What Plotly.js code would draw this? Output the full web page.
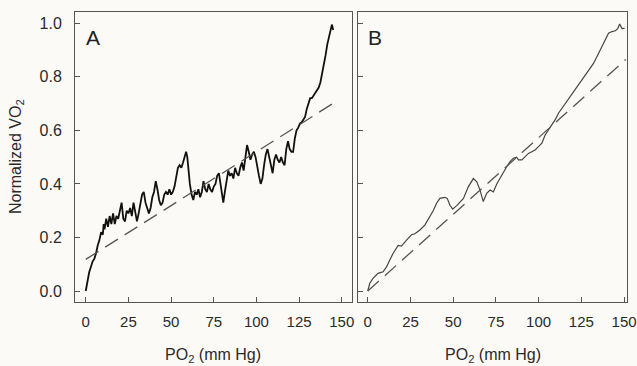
<!DOCTYPE html>
<html>
<head>
<meta charset="utf-8">
<script src="https://cdn.plot.ly/plotly-3.0.1.min.js"></script>
<style>html,body{margin:0;padding:0;background:#fcfaf7;}#chart{width:637px;height:366px;}</style>
</head>
<body>
<div id="chart"></div>
<script>
// Panel A: measured curve
const aX = [0,1,2,3,4,5,6,7,8,9,10,10.5,11,12,13,14,15,16,17,18,19,20,21,22,23,24,25,26,27,28,29,30,31,32,33,34,35,36,37,38,39,40,41,42,43,44,45,46,47,48,49,50,51,52,53,54,55,56,57,58,58.8,59.5,60,61,62,63,64,65,66,67,68,69,70,71,72,73,74,75,76,77,78,79,80,80.6,81.5,82.5,83.5,84.5,85.5,86.5,87.5,88.5,89.5,90.5,91.5,92.5,93.5,94.5,95.5,96.5,97.5,98.5,99.5,100.5,101.5,102.5,103.5,104.5,105.5,106.5,107.5,108.5,109.5,110.5,111.5,112.5,113.5,114.5,115.5,116.5,117.5,118.5,119.5,120.5,121.5,122.5,123.5,124.5,125.5,126.5,127.5,128.5,129.5,130.5,131.5,132.5,133.5,134.5,135.5,136.5,137.5,138.5,139.5,140.5,141.5,142.5,143.5,144.2,145];
const aY = [0.0,0.04,0.07,0.09,0.11,0.12,0.14,0.17,0.19,0.22,0.21,0.25,0.23,0.27,0.24,0.28,0.25,0.29,0.25,0.28,0.27,0.30,0.33,0.27,0.26,0.30,0.29,0.31,0.28,0.33,0.29,0.26,0.29,0.33,0.36,0.37,0.33,0.31,0.29,0.31,0.35,0.37,0.41,0.38,0.34,0.32,0.33,0.36,0.37,0.36,0.38,0.36,0.37,0.39,0.43,0.46,0.47,0.46,0.48,0.50,0.52,0.50,0.46,0.40,0.36,0.34,0.37,0.36,0.38,0.35,0.37,0.41,0.38,0.37,0.40,0.38,0.37,0.39,0.40,0.43,0.44,0.39,0.35,0.33,0.37,0.42,0.45,0.43,0.44,0.42,0.46,0.44,0.43,0.46,0.48,0.45,0.50,0.545,0.52,0.49,0.51,0.52,0.50,0.46,0.43,0.40,0.42,0.47,0.51,0.53,0.50,0.46,0.44,0.49,0.51,0.49,0.48,0.50,0.48,0.47,0.53,0.56,0.53,0.52,0.52,0.57,0.60,0.61,0.625,0.63,0.64,0.65,0.68,0.70,0.72,0.72,0.73,0.74,0.75,0.76,0.78,0.81,0.84,0.88,0.92,0.95,0.97,0.995,0.975];
// Panel A: linear fit (dashed)
const aFitX = [0, 145.5];
const aFitY = [0.118, 0.703];

// Panel B: measured curve
const bX = [0,1.2,3.1,6,9,11,12.9,14.8,17.8,19.7,22.7,25.6,27.6,30.5,33.4,36.4,38.3,40.3,42.2,45.2,46.5,48.1,49.7,52.2,54,56,58.9,61.8,63.8,65.7,67.6,69.6,71.6,73.5,75.5,78.4,81.3,83.3,85.2,87.1,88.2,90.2,92.1,94,96,97.9,99.9,101.9,103.8,105.7,107.7,109.7,111.6,113.6,115.5,118.5,121.4,124.3,126.3,129.2,132.1,135.1,138,140.9,142.9,144.9,146.3,147.4,148.8,150.3];
const bY = [0.0,0.029,0.047,0.066,0.072,0.09,0.116,0.14,0.17,0.168,0.19,0.21,0.214,0.228,0.246,0.278,0.30,0.328,0.346,0.35,0.346,0.32,0.306,0.32,0.334,0.346,0.39,0.42,0.408,0.377,0.334,0.365,0.377,0.37,0.40,0.433,0.464,0.483,0.496,0.50,0.49,0.49,0.502,0.514,0.52,0.527,0.539,0.552,0.583,0.60,0.62,0.64,0.664,0.682,0.70,0.726,0.75,0.776,0.795,0.82,0.85,0.888,0.925,0.963,0.969,0.972,0.98,0.997,0.98,0.981];
// Panel B: linear fit (dashed)
const bFitX = [0, 151];
const bFitY = [0.0, 0.865];

const xTicks = [0,25,50,75,100,125,150];
const yTicks = [0.0,0.2,0.4,0.6,0.8,1.0];

const font = 'Liberation Sans, Arial, sans-serif';
const traces = [
  {x: aX, y: aY, type: 'scatter', mode: 'lines', line: {color: '#111', width: 1.8}, xaxis: 'x', yaxis: 'y'},
  {x: aFitX, y: aFitY, type: 'scatter', mode: 'lines', line: {color: '#555', width: 1.3, dash: '15px,8px'}, xaxis: 'x', yaxis: 'y'},
  {x: bX, y: bY, type: 'scatter', mode: 'lines', line: {color: '#444', width: 1.2}, xaxis: 'x2', yaxis: 'y2'},
  {x: bFitX, y: bFitY, type: 'scatter', mode: 'lines', line: {color: '#555', width: 1.3, dash: '15px,8px'}, xaxis: 'x2', yaxis: 'y2'}
];

const axCommon = {
  showgrid: false, zeroline: false, showline: true, mirror: true,
  linecolor: '#555', linewidth: 1, ticks: 'inside', ticklen: 5, tickcolor: '#555',
  tickfont: {family: font, size: 15, color: '#2a2a2a'}
};

const layout = {
  width: 637, height: 366,
  paper_bgcolor: '#fcfaf7', plot_bgcolor: '#fcfaf7',
  showlegend: false,
  margin: {l: 0, r: 0, t: 12, b: 64},
  xaxis: Object.assign({}, axCommon, {domain: [75/637, 352/637], range: [-6.3, 156], tickvals: xTicks, ticktext: xTicks.map(String), anchor: 'y', ticklabelstandoff: 6}),
  yaxis: Object.assign({}, axCommon, {domain: [0, 1], range: [-0.041, 1.042], tickvals: yTicks, ticktext: yTicks.map(v => v.toFixed(1)), anchor: 'x', ticklabelstandoff: 9, tickfont: {family: font, size: 16, color: '#2a2a2a'}}),
  xaxis2: Object.assign({}, axCommon, {domain: [358/637, 627/637], range: [-5.7, 151.7], tickvals: xTicks, ticktext: xTicks.map(String), anchor: 'y2', ticklabelstandoff: 6}),
  yaxis2: Object.assign({}, axCommon, {domain: [0, 1], range: [-0.041, 1.042], tickvals: yTicks, showticklabels: false, anchor: 'x2'}),
  annotations: [
    {text: 'A', xref: 'paper', yref: 'paper', x: 84/637, y: 1, xanchor: 'left', yanchor: 'top', yshift: -12, showarrow: false, font: {family: font, size: 21, color: '#222'}},
    {text: 'B', xref: 'paper', yref: 'paper', x: 366/637, y: 1, xanchor: 'left', yanchor: 'top', yshift: -12, showarrow: false, font: {family: font, size: 21, color: '#222'}},
    {text: 'PO<sub>2</sub> (mm Hg)', xref: 'paper', yref: 'paper', x: 213.5/637, y: 0, yshift: -53, xanchor: 'center', yanchor: 'middle', showarrow: false, font: {family: font, size: 16, color: '#2a2a2a'}},
    {text: 'PO<sub>2</sub> (mm Hg)', xref: 'paper', yref: 'paper', x: 492.5/637, y: 0, yshift: -53, xanchor: 'center', yanchor: 'middle', showarrow: false, font: {family: font, size: 16, color: '#2a2a2a'}},
    {text: 'Normalized VO<sub>2</sub>', xref: 'paper', yref: 'paper', x: 16/637, y: 0.5, textangle: -90, xanchor: 'center', yanchor: 'middle', showarrow: false, font: {family: font, size: 16, color: '#2a2a2a'}}
  ]
};

Plotly.newPlot('chart', traces, layout, {displayModeBar: false, staticPlot: true});
</script>
</body>
</html>
